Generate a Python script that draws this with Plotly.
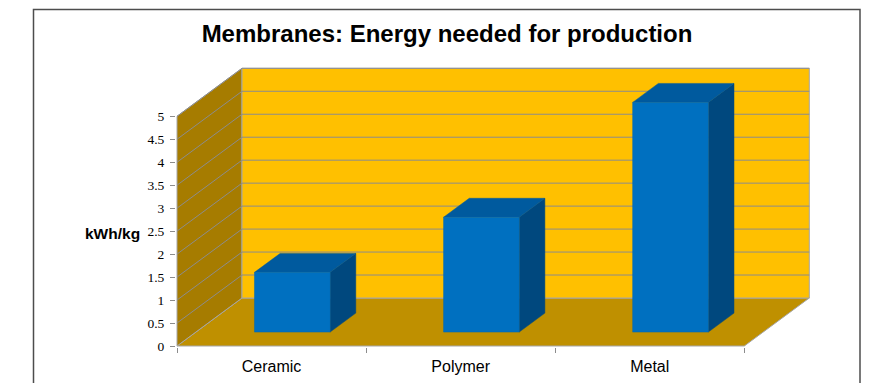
import plotly.graph_objects as go

# ---------------- data ----------------
categories = ["Ceramic", "Polymer", "Metal"]
energy_kwh_per_kg = [1.3, 2.5, 5.0]
y_tick_values = [0, 0.5, 1, 1.5, 2, 2.5, 3, 3.5, 4, 4.5, 5]
y_tick_labels = ["0", "0.5", "1", "1.5", "2", "2.5", "3", "3.5", "4", "4.5", "5"]
title_text = "Membranes: Energy needed for production"
y_label = "kWh/kg"

# ---------------- layout constants ----------------
W, H = 874, 383
L, R, T, B = 176, 50, 50, 36
PX_PER_CAT = 189.1
PX_PER_UNIT = 45.94
DX = 65 / PX_PER_CAT      # oblique depth offset (category units)
DY = 48 / PX_PER_UNIT     # oblique depth offset (value units)
Y_MAX = 5
F1, F2 = 0.29, 0.685      # bar depth fractions
BL, BR = -0.19, 0.21      # bar extent around category centre
n = len(categories)

x0 = -(177 - L) / PX_PER_CAT
x1 = x0 + (W - L - R) / PX_PER_CAT
y0 = -((H - B) - 346) / PX_PER_UNIT
y1 = y0 + (H - T - B) / PX_PER_UNIT

BACK = "#FFC000"
SIDE = "#A67C00"
FLOOR = "#BF9000"
GRID = "#8C8C8C"
EDGE = "#A6A6A6"
FRONT = "#0070C0"
TOP = "#005A9E"
RSIDE = "#00487E"

fig = go.Figure()


def poly(xs, ys, fillcolor, linecolor, lw=1):
    fig.add_trace(go.Scatter(
        x=list(xs) + [xs[0]], y=list(ys) + [ys[0]], mode="lines",
        fill="toself", fillcolor=fillcolor,
        line=dict(color=linecolor, width=lw),
        hoverinfo="skip", showlegend=False))


# floor
poly([0, n, n + DX, DX], [0, 0, DY, DY], FLOOR, EDGE)
# side wall
poly([0, DX, DX, 0], [0, DY, Y_MAX + DY, Y_MAX], SIDE, EDGE)
# back wall
poly([DX, n + DX, n + DX, DX], [DY, DY, Y_MAX + DY, Y_MAX + DY], BACK, EDGE)

# gridlines
gx, gy = [], []
for v in y_tick_values[1:]:
    gx += [0, DX, n + DX, None]
    gy += [v, v + DY, v + DY, None]
fig.add_trace(go.Scatter(x=gx, y=gy, mode="lines",
                         line=dict(color=GRID, width=1),
                         hoverinfo="skip", showlegend=False))

# bars (oblique 3-D boxes)
for i, v in enumerate(energy_kwh_per_kg):
    c = i + 0.5
    # right side face
    poly([c + BR + F1 * DX, c + BR + F2 * DX, c + BR + F2 * DX, c + BR + F1 * DX],
         [F1 * DY, F2 * DY, v + F2 * DY, v + F1 * DY], RSIDE, RSIDE, 0.5)
    # top face
    poly([c + BL + F1 * DX, c + BR + F1 * DX, c + BR + F2 * DX, c + BL + F2 * DX],
         [v + F1 * DY, v + F1 * DY, v + F2 * DY, v + F2 * DY], TOP, TOP, 0.5)
    # front face
    poly([c + BL + F1 * DX, c + BR + F1 * DX, c + BR + F1 * DX, c + BL + F1 * DX],
         [F1 * DY, F1 * DY, v + F1 * DY, v + F1 * DY], FRONT, "#0068B3", 0.5)

fig.update_layout(
    width=W, height=H,
    margin=dict(l=L, r=R, t=T, b=B, pad=0, autoexpand=False),
    paper_bgcolor="white", plot_bgcolor="rgba(0,0,0,0)",
    showlegend=False, hovermode=False,
    title=dict(text="<b>" + title_text + "</b>", x=447 / W, xanchor="center",
               y=1 - 34 / H, yanchor="middle",
               font=dict(family="Liberation Sans, Arial, sans-serif", size=24, color="black")),
    xaxis=dict(range=[x0, x1], showgrid=False, zeroline=False, showline=False,
               automargin=False,
               tickvals=[i + 0.5 for i in range(n)], ticktext=categories,
               ticks="", ticklabelstandoff=8,
               tickfont=dict(family="Liberation Sans, Arial, sans-serif",
                             size=16, color="black"),
               minor=dict(tickvals=list(range(n + 1)), ticks="outside",
                          ticklen=5, tickcolor="#8C8C8C", tickwidth=1)),
    yaxis=dict(range=[y0, y1], showgrid=False, zeroline=False, showline=False,
               automargin=False,
               tickvals=y_tick_values, ticktext=y_tick_labels,
               ticks="outside", ticklen=5, tickcolor="#8C8C8C", tickwidth=1,
               ticklabelstandoff=3,
               tickfont=dict(family="Liberation Serif, Times New Roman, serif",
                             size=13.5, color="black")),
    annotations=[dict(text="<b>" + y_label + "</b>", xref="paper", yref="y",
                      x=0, y=2.45, xanchor="right", yanchor="middle",
                      xshift=-(177 - 141.7) + (177 - L), showarrow=False,
                      font=dict(family="Liberation Sans, Arial, sans-serif",
                                size=15.5, color="black"))],
)

# outer chart frame
pw = W - L - R
ph = H - T - B
fig.add_shape(type="rect", xref="paper", yref="paper",
              x0=(33.5 - L) / pw, x1=(860 - L) / pw,
              y0=((H - B) - 400) / ph, y1=((H - B) - 9.5) / ph,
              line=dict(color="#4D4D4D", width=1.5), fillcolor="rgba(0,0,0,0)",
              layer="below")

fig.write_html("out.html")
